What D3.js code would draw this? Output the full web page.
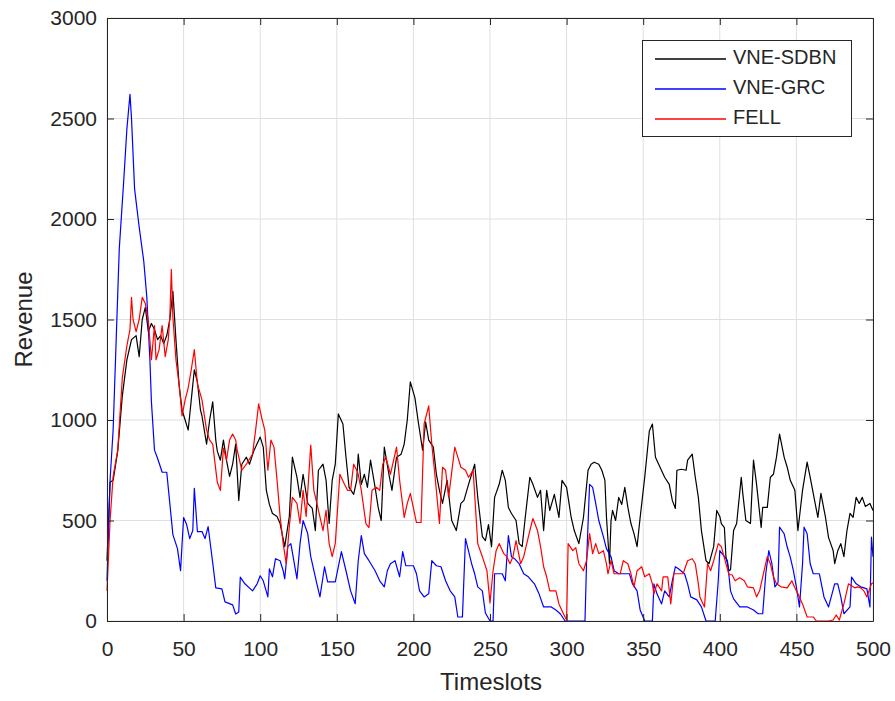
<!DOCTYPE html>
<html>
<head>
<meta charset="utf-8">
<script src="https://cdn.jsdelivr.net/npm/d3@7"></script>
<style>
  html, body { margin: 0; padding: 0; background: #fff; }
  svg { display: block; font-family: "Liberation Sans", Arial, Helvetica, sans-serif; }
</style>
</head>
<body>
<svg id="chart" width="895" height="701"></svg>
<script>
// Tick labels
const xTicks = [0, 50, 100, 150, 200, 250, 300, 350, 400, 450, 500];
const yTicks = [0, 500, 1000, 1500, 2000, 2500, 3000];

// Series names (legend order)
const seriesNames = ["VNE-SDBN", "VNE-GRC", "FELL"];
const seriesColors = ["#000000", "#0000ff", "#ff0000"];

// VNE-SDBN revenue per timeslot: [timeslot, revenue]
const revenueSDBN = [
  [0,300],[2,690],[4,700],[7,845],[10,1120],[13,1300],[16,1400],[19,1420],[21,1315],[23,1500],
  [25,1560],[27,1440],[29,1480],[31,1450],[33,1400],[35,1420],[37,1380],[39,1420],[41,1500],[43,1640],
  [45,1400],[47,1180],[49,1050],[51,1000],[53,950],[55,1100],[57,1250],[59,1190],[61,1050],[62,1020],
  [65,880],[67,1000],[69,1090],[71,900],[72,845],[74,800],[76,900],[78,800],[80,720],[82,780],
  [84,880],[86,600],[88,780],[91,815],[93,780],[96,850],[100,915],[102,865],[104,650],[106,580],
  [108,535],[111,520],[113,485],[116,370],[119,520],[121,815],[124,715],[126,615],[128,730],[131,585],
  [134,560],[136,450],[138,750],[141,780],[143,700],[145,485],[147,700],[149,780],[151,1030],[154,980],
  [156,815],[158,665],[161,630],[163,700],[164,830],[166,680],[168,730],[170,665],[172,800],[175,665],
  [177,565],[179,500],[181,865],[184,730],[186,650],[189,815],[192,830],[194,880],[196,1000],[198,1190],
  [201,1110],[203,1000],[206,850],[208,990],[210,900],[213,865],[215,730],[217,650],[219,585],[222,700],
  [225,500],[228,450],[231,585],[233,600],[236,680],[240,780],[242,615],[245,420],[247,400],[249,480],
  [251,370],[253,615],[256,680],[258,750],[260,700],[262,565],[264,535],[267,500],[269,385],[271,370],
  [273,515],[276,715],[278,680],[281,615],[283,650],[285,450],[287,650],[289,550],[292,630],[295,515],
  [297,700],[300,665],[303,515],[305,450],[308,385],[311,515],[314,750],[316,780],[318,790],[321,780],
  [323,750],[325,700],[326,520],[328,285],[329,500],[330,550],[332,500],[334,615],[336,580],[338,665],
  [340,565],[342,485],[344,435],[346,370],[348,515],[351,715],[354,945],[356,980],[358,815],[361,765],
  [364,715],[367,680],[369,600],[371,560],[372,750],[375,755],[378,750],[379,800],[382,830],[384,715],
  [386,615],[388,450],[391,300],[393,285],[396,370],[398,550],[400,520],[401,485],[403,465],[404,320],
  [406,250],[407,255],[409,450],[411,485],[414,715],[415,635],[417,500],[420,485],[422,800],[424,680],
  [427,465],[428,565],[431,565],[433,715],[435,730],[437,815],[439,930],[442,815],[444,765],[446,700],
  [449,650],[451,450],[454,650],[457,790],[459,715],[461,635],[464,515],[466,635],[469,515],[471,415],
  [474,350],[475,285],[477,350],[479,385],[481,320],[483,450],[485,535],[487,515],[489,615],[491,585],
  [493,615],[495,570],[498,585],[500,550]
];

// VNE-GRC revenue per timeslot
const revenueGRC = [
  [0,200],[2,700],[4,950],[6,1400],[8,1850],[11,2200],[13,2450],[15,2620],[16,2500],[18,2150],
  [21,1960],[24,1790],[26,1610],[28,1300],[29,1090],[31,850],[33,810],[36,740],[39,740],[41,585],
  [43,430],[46,360],[48,250],[50,515],[52,480],[54,410],[56,450],[57,660],[59,445],[62,445],
  [64,410],[66,470],[69,290],[71,165],[75,160],[77,95],[82,80],[84,35],[86,45],[87,218],
  [90,185],[95,150],[98,185],[100,225],[102,200],[105,120],[106,260],[108,220],[110,310],[113,300],
  [115,250],[116,210],[118,370],[120,385],[124,210],[126,385],[128,500],[131,435],[133,320],[137,185],
  [139,120],[142,270],[144,195],[149,195],[153,345],[156,250],[159,150],[162,86],[164,300],[166,425],
  [168,335],[171,300],[175,250],[178,200],[181,170],[183,250],[185,285],[188,300],[191,220],[193,345],
  [195,275],[200,275],[202,235],[204,150],[207,120],[210,135],[212,300],[215,275],[218,270],[221,200],
  [224,150],[227,120],[229,20],[232,20],[234,410],[238,285],[240,235],[242,170],[245,150],[247,40],
  [250,0],[252,0],[253,235],[258,235],[260,200],[262,425],[264,320],[266,310],[269,285],[272,235],
  [275,220],[279,185],[282,135],[285,70],[290,70],[293,55],[296,35],[299,0],[312,0],[313,285],
  [315,680],[317,665],[319,585],[321,500],[324,420],[326,360],[329,320],[331,250],[334,235],[341,235],
  [343,185],[346,150],[348,55],[351,0],[356,0],[357,185],[359,135],[362,85],[364,150],[367,120],
  [369,200],[371,270],[373,260],[377,235],[379,185],[381,120],[385,105],[388,70],[391,0],[397,0],
  [399,200],[400,350],[403,320],[405,300],[407,150],[409,110],[413,70],[418,70],[422,55],[425,36],
  [428,36],[430,235],[432,350],[434,285],[436,170],[438,190],[439,467],[442,434],[444,368],[446,318],
  [448,252],[450,169],[452,70],[454,285],[455,467],[457,434],[459,285],[461,235],[465,235],[468,120],
  [471,70],[475,185],[477,185],[479,120],[481,36],[485,70],[486,218],[489,185],[492,170],[496,160],
  [498,70],[499,417],[500,320]
];

// FELL revenue per timeslot
const revenueFELL = [
  [0,150],[2,500],[4,720],[7,850],[10,1210],[13,1370],[15,1450],[16,1610],[17,1500],[19,1440],
  [21,1500],[23,1610],[25,1580],[27,1490],[29,1300],[31,1470],[32,1300],[34,1350],[36,1470],[38,1315],
  [40,1400],[41,1510],[42,1750],[43,1510],[45,1300],[47,1180],[49,1020],[51,1100],[53,1160],[55,1250],
  [57,1350],[59,1180],[62,1100],[65,950],[67,900],[69,880],[72,690],[74,650],[76,860],[78,800],
  [80,900],[82,930],[84,900],[85,850],[88,750],[91,780],[95,830],[97,950],[99,1080],[101,1010],
  [103,950],[105,750],[107,900],[109,865],[111,700],[113,520],[115,385],[117,285],[119,470],[121,615],
  [124,585],[126,485],[128,650],[130,520],[133,875],[135,650],[137,585],[141,450],[143,550],[145,385],
  [147,320],[149,385],[152,730],[155,680],[157,650],[159,650],[161,780],[163,750],[164,730],[166,650],
  [169,485],[171,465],[173,650],[176,665],[178,650],[180,780],[182,815],[185,730],[189,865],[191,700],
  [194,515],[196,585],[198,635],[202,490],[205,490],[207,980],[210,1070],[212,880],[214,730],[217,485],
  [219,765],[221,750],[223,615],[227,865],[229,815],[231,765],[234,750],[236,715],[239,750],[242,385],
  [245,320],[248,250],[250,90],[252,250],[254,350],[256,385],[259,335],[261,320],[263,285],[265,320],
  [267,400],[270,285],[272,320],[274,385],[276,450],[278,510],[281,450],[283,370],[285,270],[287,220],
  [289,150],[293,150],[295,85],[298,35],[300,5],[301,385],[304,350],[306,365],[308,285],[311,250],
  [313,300],[315,435],[317,335],[319,385],[321,335],[324,350],[326,285],[327,235],[329,300],[331,235],
  [335,235],[337,300],[340,285],[342,235],[344,170],[346,250],[349,270],[351,220],[354,235],[356,185],
  [357,135],[359,185],[362,150],[363,220],[366,220],[368,85],[370,235],[376,235],[379,300],[382,310],
  [384,285],[386,185],[387,120],[390,70],[392,285],[394,250],[396,300],[399,385],[401,370],[404,285],
  [406,230],[408,230],[410,200],[413,215],[416,200],[418,170],[422,165],[424,120],[426,150],[428,220],
  [431,320],[433,285],[435,220],[437,185],[440,170],[444,165],[447,200],[449,165],[451,135],[454,85],
  [457,20],[461,20],[463,0],[471,0],[474,5],[476,30],[478,5],[481,85],[484,185],[488,165],
  [490,170],[492,165],[494,150],[496,120],[499,185],[500,190]
];

const seriesData = [revenueSDBN, revenueGRC, revenueFELL];

const svg = d3.select("#chart");
const plot = { left: 107, right: 873, top: 18, bottom: 621 };

const x = d3.scaleLinear().domain([0, 500]).range([plot.left, plot.right]);
const y = d3.scaleLinear().domain([0, 3000]).range([plot.bottom, plot.top]);

const axisColor = "#262626";
const gridColor = "#dfdfdf";
const fmt = d3.format("d");

// Grid lines
const grid = svg.append("g");
grid.selectAll("line.gx").data(xTicks).join("line")
  .attr("class", "gx")
  .attr("x1", d => x(d)).attr("x2", d => x(d))
  .attr("y1", plot.top).attr("y2", plot.bottom)
  .attr("stroke", gridColor).attr("stroke-width", 1);
grid.selectAll("line.gy").data(yTicks).join("line")
  .attr("class", "gy")
  .attr("x1", plot.left).attr("x2", plot.right)
  .attr("y1", d => y(d)).attr("y2", d => y(d))
  .attr("stroke", gridColor).attr("stroke-width", 1);

// Series lines
const line = d3.line().x(d => x(d[0])).y(d => y(d[1]));
svg.append("g").selectAll("path").data(seriesData).join("path")
  .attr("d", line)
  .attr("fill", "none")
  .attr("stroke", (d, i) => seriesColors[i])
  .attr("stroke-width", 1.2)
  .attr("stroke-linejoin", "round");

// Axes (ticks point inward, box on)
function styleAxis(g) {
  g.selectAll("path.domain").attr("stroke", axisColor);
  g.selectAll(".tick line").attr("stroke", axisColor);
  g.selectAll(".tick text").attr("fill", axisColor)
    .style("font-family", "'Liberation Sans', Arial, sans-serif")
    .style("font-size", "21px");
}

svg.append("g").attr("transform", `translate(0,${plot.bottom})`)
  .call(d3.axisBottom(x).tickValues(xTicks).tickFormat(fmt).tickSize(-7).tickSizeOuter(0).tickPadding(20))
  .call(styleAxis);
svg.append("g").attr("transform", `translate(${plot.left},0)`)
  .call(d3.axisLeft(y).tickValues(yTicks).tickFormat(fmt).tickSize(-7).tickSizeOuter(0).tickPadding(10))
  .call(styleAxis);
svg.append("g").attr("transform", `translate(0,${plot.top})`)
  .call(d3.axisTop(x).tickValues(xTicks).tickSize(-7).tickSizeOuter(0).tickFormat(""))
  .call(styleAxis);
svg.append("g").attr("transform", `translate(${plot.right},0)`)
  .call(d3.axisRight(y).tickValues(yTicks).tickSize(-7).tickSizeOuter(0).tickFormat(""))
  .call(styleAxis);

// Axis titles
svg.append("text")
  .attr("x", 491).attr("y", 684)
  .attr("text-anchor", "middle").attr("dominant-baseline", "middle")
  .attr("fill", axisColor).style("font-size", "24px")
  .text("Timeslots");
svg.append("text")
  .attr("transform", `translate(26,${(plot.top + plot.bottom) / 2}) rotate(-90)`)
  .attr("text-anchor", "middle").attr("dominant-baseline", "middle")
  .attr("fill", axisColor).style("font-size", "24px")
  .text("Revenue");

// Legend
const legend = svg.append("g");
legend.append("rect")
  .attr("x", 642.5).attr("y", 40.5).attr("width", 209).attr("height", 96)
  .attr("fill", "#fff").attr("stroke", axisColor).attr("stroke-width", 1);
legend.selectAll("line.key").data(seriesNames).join("line")
  .attr("class", "key")
  .attr("x1", 655).attr("x2", 726)
  .attr("y1", (d, i) => 59 + i * 30).attr("y2", (d, i) => 59 + i * 30)
  .attr("stroke", (d, i) => seriesColors[i]).attr("stroke-width", 1.3);
legend.selectAll("text.key").data(seriesNames).join("text")
  .attr("class", "key")
  .attr("x", 733).attr("y", (d, i) => 59 + i * 30).attr("dominant-baseline", "middle")
  .attr("fill", axisColor).style("font-size", "20px")
  .text(d => d);
</script>
</body>
</html>
